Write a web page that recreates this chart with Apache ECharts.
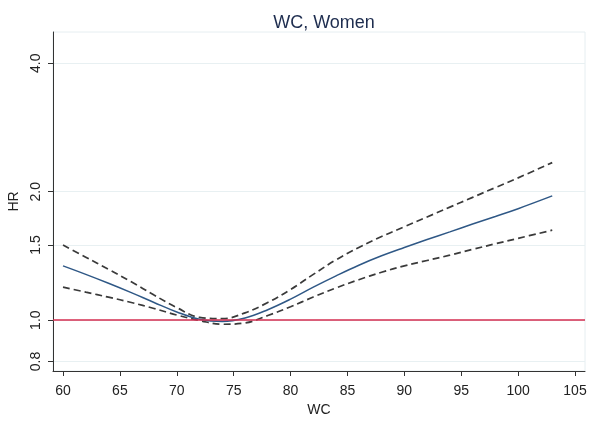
<!DOCTYPE html>
<html>
<head>
<meta charset="utf-8">
<script src="https://cdn.jsdelivr.net/npm/echarts@6/dist/echarts.min.js"></script>
<style>html,body{margin:0;padding:0;background:#fff;}#c{width:600px;height:421px;}</style>
</head>
<body>
<div id="c"></div>
<script>
var wc = [60, 62, 64, 66, 68, 70, 72, 74, 76, 78, 80, 82, 84, 86, 88, 90, 92, 94, 96, 98, 100, 103];
var hr = [1.34, 1.28, 1.22, 1.16, 1.10, 1.045, 1.005, 0.993, 1.012, 1.058, 1.12, 1.195, 1.27, 1.345, 1.415, 1.48, 1.545, 1.61, 1.68, 1.75, 1.825, 1.955];
var upper = [1.50, 1.405, 1.315, 1.23, 1.145, 1.07, 1.015, 1.008, 1.04, 1.10, 1.18, 1.28, 1.385, 1.48, 1.57, 1.655, 1.745, 1.84, 1.94, 2.045, 2.155, 2.34];
var lower = [1.195, 1.163, 1.132, 1.10, 1.065, 1.028, 0.998, 0.978, 0.985, 1.025, 1.075, 1.133, 1.19, 1.244, 1.295, 1.34, 1.38, 1.42, 1.465, 1.51, 1.555, 1.625];
var yTicks = [0.8, 1.0, 1.5, 2.0, 4.0];
var xTicks = [60, 65, 70, 75, 80, 85, 90, 95, 100, 105];

function pts(arr) { return wc.map(function (x, i) { return [x, Math.log(arr[i])]; }); }
var yTickLn = yTicks.map(function (v) { return Math.log(v); });
var font = 'Liberation Sans, Arial, sans-serif';

var chart = echarts.init(document.getElementById('c'));
chart.setOption({
  animation: false,
  title: {
    text: 'WC, Women', left: 319, top: 9, textAlign: 'center',
    textStyle: { fontFamily: font, fontSize: 18, fontWeight: 'normal', color: '#1e2d4f' }
  },
  grid: { left: 53, right: 15, top: 32, bottom: 50, show: true, borderColor: '#e6eef1', borderWidth: 1, containLabel: false, outerBoundsMode: 'none' },
  xAxis: {
    type: 'value', min: 59.12, max: 105.88,
    name: 'WC', nameLocation: 'middle', nameGap: 29,
    nameTextStyle: { fontFamily: font, fontSize: 14, color: '#222' },
    axisLine: { show: true, onZero: false, lineStyle: { color: '#333', width: 1 } },
    axisTick: { show: true, length: 5, inside: false, customValues: xTicks, lineStyle: { color: '#333' } },
    axisLabel: { customValues: xTicks, fontFamily: font, fontSize: 14, color: '#222', margin: 13 },
    splitLine: { show: false }
  },
  yAxis: {
    type: 'value', min: Math.log(0.76), max: Math.log(4.735),
    name: 'HR', nameLocation: 'middle', nameGap: 13, nameRotate: 90,
    nameTextStyle: { fontFamily: font, fontSize: 14, color: '#222', padding: [0, 0, -12, 0] },
    axisLine: { show: true, onZero: false, lineStyle: { color: '#333', width: 1 } },
    axisTick: { show: true, length: 5, customValues: yTickLn, lineStyle: { color: '#333' } },
    axisLabel: {
      customValues: yTickLn, rotate: 90, margin: 10,
      fontFamily: font, fontSize: 14, color: '#222',
      formatter: function (v) { return Math.exp(v).toFixed(1); }
    },
    splitLine: { show: true, lineStyle: { color: '#e8f0f2', width: 1 } }
  },
  series: [
    {
      type: 'line', data: [], silent: true,
      markLine: {
        symbol: 'none', silent: true, label: { show: false },
        lineStyle: { color: '#d42e50', width: 1.5, type: 'solid' },
        data: [{ yAxis: 0 }]
      }
    },
    { type: 'line', data: pts(upper), smooth: 0.4, symbol: 'none', lineStyle: { color: '#3a3a3a', width: 1.7, type: [7, 4] } },
    { type: 'line', data: pts(lower), smooth: 0.4, symbol: 'none', lineStyle: { color: '#3a3a3a', width: 1.7, type: [7, 4] } },
    { type: 'line', data: pts(hr), smooth: 0.4, symbol: 'none', lineStyle: { color: '#2f5886', width: 1.5 } }
  ]
});
</script>
</body>
</html>
